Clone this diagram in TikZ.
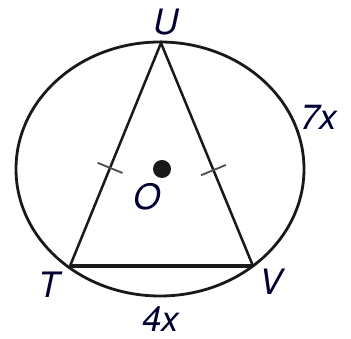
\documentclass[tikz,border=0pt]{standalone}
\usepackage{fontspec}
\setmainfont{TeX Gyre Heros}
\usetikzlibrary{calc,positioning}

\begin{document}
\begin{tikzpicture}[
  x=1pt,y=1pt,
  rim/.style={line width=2.8pt,black!90},
  chord/.style={line width=2.5pt,black!90},
  tickmark/.style={line width=1.8pt,black!70},
  lbl/.style={font=\fontsize{35}{35}\selectfont\itshape,inner sep=0pt,text=black!80!blue}
]
  \useasboundingbox (0,0) rectangle (351,339);
  \coordinate (O) at (160,170);
  \coordinate (U) at (161,296);
  \coordinate (T) at (70,73);
  \coordinate (V) at (253,73);

  \draw[rim] (O) ellipse [x radius=144pt,y radius=127pt];
  \draw[chord] (T) -- (U) -- (V);
  \draw[chord,line width=3.2pt] (T) -- (V);
  \fill[black!90] (162,170) circle [radius=9pt];

  % congruence ticks
  \coordinate (tu) at ($(T)!0.44!(U)$);
  \coordinate (vu) at ($(V)!0.43!(U)$);
  \draw[tickmark] ($(tu)!13.5pt!90:(U)$) -- ($(tu)!13.5pt!-90:(U)$);
  \draw[tickmark] ($(vu)!13.5pt!90:(U)$) -- ($(vu)!13.5pt!-90:(U)$);

  \node[lbl] (Ulbl) at (166,317) {U};
  \node[lbl] (Tlbl) at (49,54) {T};
  \node[lbl] (Vlbl) at (271,57) {V};
  \node[lbl] (Olbl) at (147,142) {O};
  \node[lbl] (arcUV) at (319,222) {7x};
  \node[lbl] (arcTV) at (161,20) {4x};
\end{tikzpicture}
\end{document}
